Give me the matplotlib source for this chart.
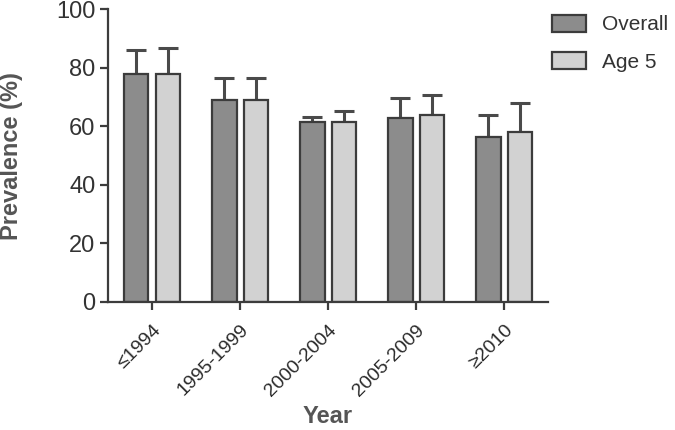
import matplotlib
matplotlib.use("Agg")
import matplotlib.pyplot as plt
import numpy as np

plt.rcParams['font.family'] = ['Liberation Sans', 'DejaVu Sans']

categories = ["≤1994", "1995-1999", "2000-2004", "2005-2009", "≥2010"]
overall = [77.9, 69.0, 61.5, 62.8, 56.5]
overall_err = [8.0, 7.4, 1.8, 7.0, 7.4]
age5 = [77.7, 69.0, 61.5, 63.9, 58.1]
age5_err = [9.0, 7.4, 3.8, 6.8, 10.0]
yticks = [0, 20, 40, 60, 80, 100]

dark = '#8c8c8c'
light = '#d2d2d2'
edge = '#3c3c3c'
txt = '#333333'

fig = plt.figure(figsize=(6.75, 4.3), dpi=100)
ax = fig.add_axes([0.16, 0.2977, 0.652, 0.681])

x = np.arange(len(categories))
w = 0.28
off = 0.18
ax.bar(x - off, overall, w, color=dark, edgecolor=edge, linewidth=1.6, label='Overall', zorder=2)
ax.bar(x + off, age5, w, color=light, edgecolor=edge, linewidth=1.6, label='Age 5', zorder=2)
ax.errorbar(x - off, overall, yerr=[np.zeros(len(x)), overall_err], fmt='none',
            ecolor='#4a4a4a', elinewidth=2.2, capsize=7, capthick=2.2, zorder=1)
ax.errorbar(x + off, age5, yerr=[np.zeros(len(x)), age5_err], fmt='none',
            ecolor='#4a4a4a', elinewidth=2.2, capsize=7, capthick=2.2, zorder=1)

ax.set_xlim(-0.5, 4.5)
ax.set_ylim(0, 100)
ax.set_yticks(yticks)
ax.set_yticklabels([str(v) for v in yticks], fontsize=17, color=txt)
ax.set_xticks(x)
ax.set_xticklabels(categories, rotation=45, ha='right', rotation_mode='anchor',
                   fontsize=14, color='#2a2a2a')
for s in ['top', 'right']:
    ax.spines[s].set_visible(False)
for s in ['left', 'bottom']:
    ax.spines[s].set_linewidth(1.6)
    ax.spines[s].set_color(edge)
ax.tick_params(axis='both', width=1.6, length=6, color=edge)
ax.tick_params(axis='x', pad=8)
ax.tick_params(axis='y', pad=3)

ax.set_ylabel('Prevalence (%)', fontsize=17, fontweight='bold', color='#555555')
ax.yaxis.set_label_coords(-0.193, 0.5)
ax.set_xlabel('Year', fontsize=17, fontweight='bold', color='#555555')
ax.xaxis.set_label_coords(0.5, -0.352)

leg = fig.legend(loc='upper left', bbox_to_anchor=(0.796, 1.0), frameon=False,
                 fontsize=15, handlelength=1.65, handleheight=0.9, handletextpad=0.75,
                 labelspacing=0.85, labelcolor=txt, borderaxespad=0.3)

fig.savefig('out.png', dpi=100)
